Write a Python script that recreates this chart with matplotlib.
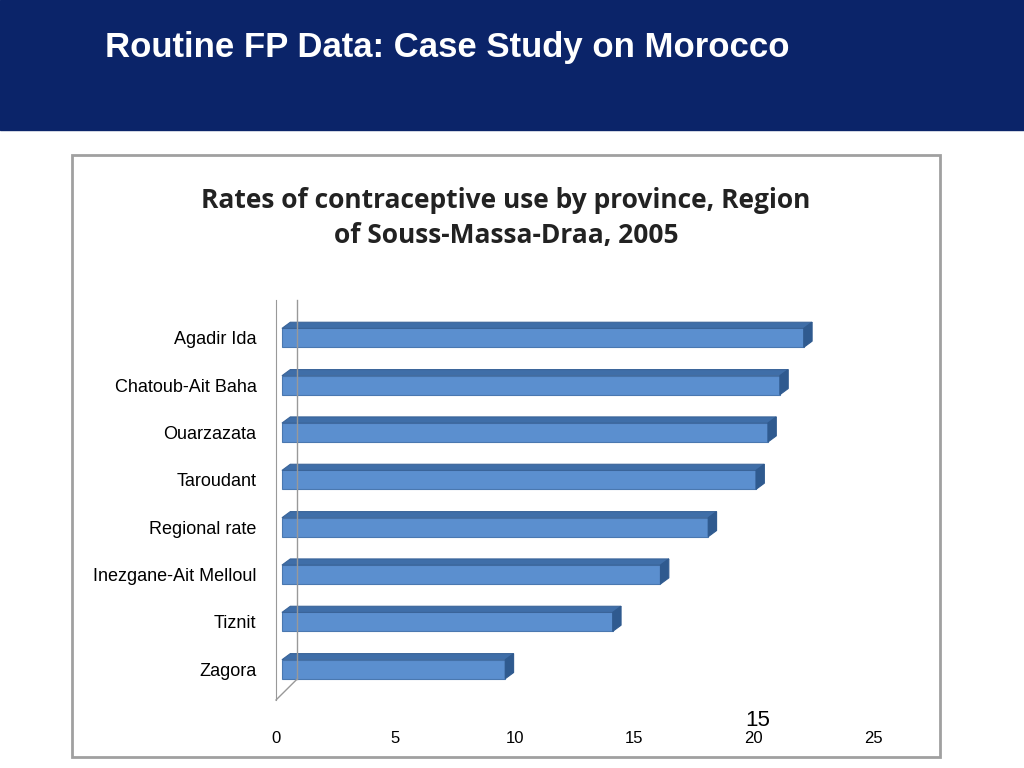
import matplotlib
matplotlib.use("Agg")
import matplotlib.pyplot as plt
from matplotlib.patches import Polygon, Rectangle

provinces = ["Agadir Ida", "Chatoub-Ait Baha", "Ouarzazata", "Taroudant",
             "Regional rate", "Inezgane-Ait Melloul", "Tiznit", "Zagora"]
rates = [22.1, 21.1, 20.6, 20.1, 18.1, 16.1, 14.1, 9.6]
xticks = [0, 5, 10, 15, 20, 25]

fig = plt.figure(figsize=(10.24, 7.68), dpi=100)
fig.patches.append(Rectangle((0, 1 - 130/768), 1, 130/768, transform=fig.transFigure,
                             color="#0b2469", zorder=0))
fig.text(105/1024, 1 - 48/768, "Routine FP Data: Case Study on Morocco", color="white",
         fontsize=25, fontweight="bold", family="Liberation Sans", va="center")
fig.patches.append(Rectangle((72/1024, 1 - 757/768), 868/1024, 602/768, transform=fig.transFigure,
                             fill=False, edgecolor="#a0a0a0", lw=2))
fig.text(506/1024, 1 - 218/768, "Rates of contraceptive use by province, Region\nof Souss-Massa-Draa, 2005",
         ha="center", va="center", fontsize=19, fontweight="bold", family="Open Sans",
         color="#222222", linespacing=1.4)

ax = fig.add_axes([276/1024, 1 - 700/768, (873-276)/1024, 400/768])
n = len(provinces)
ys = list(range(n))[::-1]
h = 0.4
dx, dy = 0.35, 0.13
x0 = 0.25
for y, v in zip(ys, rates):
    ax.add_patch(Polygon([(x0, y-h/2), (v, y-h/2), (v, y+h/2), (x0, y+h/2)], closed=True,
                         facecolor="#5b8fcf", edgecolor="#4a78b0", lw=0.8))
    ax.add_patch(Polygon([(x0, y+h/2), (v, y+h/2), (v+dx, y+h/2+dy), (x0+dx, y+h/2+dy)],
                         closed=True, facecolor="#3f6ea8", edgecolor="#3a6499", lw=0.8))
    ax.add_patch(Polygon([(v, y-h/2), (v+dx, y-h/2+dy), (v+dx, y+h/2+dy), (v, y+h/2)],
                         closed=True, facecolor="#2f5a8f", edgecolor="#2f5a8f", lw=0.8))
ax.set_xlim(0, 25)
ax.set_ylim(-0.65, n - 0.2)
ax.set_xticks(xticks)
ax.set_xticklabels([str(t) for t in xticks], fontsize=12, family="Liberation Sans")
ax.set_yticks(ys)
ax.set_yticklabels(provinces, fontsize=13, family="Liberation Sans")
ax.tick_params(axis="x", length=0, pad=22)
ax.tick_params(axis="y", length=0, pad=14)
for s in ["top", "right", "bottom"]:
    ax.spines[s].set_visible(False)
ax.spines["left"].set_color("#999999")
ax.plot([0, 0.9], [-0.65, -0.2], color="#999999", lw=1, clip_on=False)
ax.plot([0.9, 0.9], [-0.2, n - 0.2], color="#999999", lw=1, clip_on=False)
fig.text(758/1024, 1 - 721/768, "15", fontsize=16, ha="center", va="center", family="Liberation Sans")
fig.savefig("out.png", dpi=100)
